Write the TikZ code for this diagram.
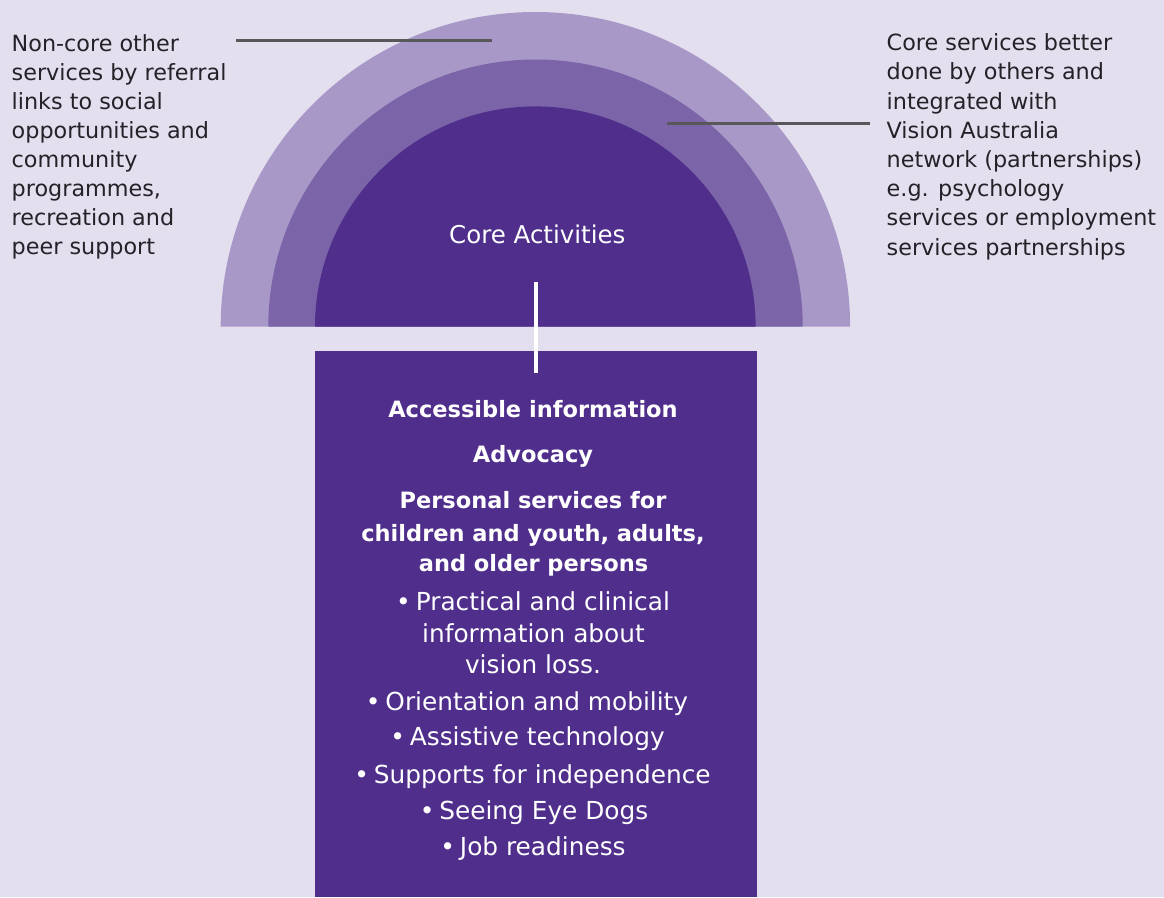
\documentclass[tikz,border=0pt]{standalone}
\usepackage{fontspec}
\setmainfont{DejaVu Sans}
\definecolor{bgpage}{HTML}{E3DFEE}
\definecolor{ringout}{HTML}{A898C8}
\definecolor{ringmid}{HTML}{7B64A7}
\definecolor{ringin}{HTML}{502E8C}
\definecolor{leader}{HTML}{58585A}
\definecolor{bodytext}{HTML}{242228}
\newcommand{\itemdot}{•\hspace{0.2em}}
\begin{document}
\begin{tikzpicture}[x=1pt,y=-1pt,
  sidetext/.style={anchor=base west,inner sep=0pt,text=bodytext,font=\fontsize{22.3}{29}\selectfont},
  boxhead/.style={anchor=base,inner sep=0pt,text=white,font=\fontsize{22.5}{29}\selectfont\bfseries},
  boxitem/.style={anchor=base,inner sep=0pt,text=white,font=\fontsize{24.8}{30}\selectfont},
  leaderline/.style={draw=leader,line width=3.2pt},
  stem/.style={draw=white,line width=4.6pt}]
% page
\fill[bgpage] (0,0) rectangle (1164,897);
\useasboundingbox (0,0) rectangle (1164,897);

% three concentric half discs
\fill[ringout] (220.7,326.7) arc[start angle=180,end angle=360,radius=314.7] -- cycle;
\fill[ringmid] (268.3,326.7) arc[start angle=180,end angle=360,radius=267.2] -- cycle;
\fill[ringin]  (315.0,326.7) arc[start angle=180,end angle=360,radius=220.3] -- cycle;
\node[inner sep=0pt,anchor=base,text=white,font=\fontsize{24.5}{29}\selectfont] (core) at (537.3,243.3) {Core Activities};

% box of core services
\node[fill=ringin,inner sep=0pt,minimum width=442pt,minimum height=546pt,anchor=north west] (box) at (315,351) {};

% stem joining the core to the box
\coordinate (stemtop) at (536,281.5);
\coordinate (stembot) at (536,372.5);
\draw[stem] (stemtop) -- (stembot);

% box contents
\node[boxhead] (h1) at (533,417.7) {Accessible information};
\node[boxhead] (h2) at (533,462.7) {Advocacy};
\node[boxhead] (h3) at (533,508.0) {Personal services for};
\node[boxhead] (h4) at (533,541.0) {children and youth, adults,};
\node[boxhead] (h5) at (533.5,571.7) {and older persons};
\node[boxitem] (i1) at (533,610.0) {\itemdot Practical and clinical};
\node[boxitem] (i2) at (533.5,642.3) {information about};
\node[boxitem] (i3) at (533,673.3) {vision loss.};
\node[boxitem] (i4) at (527,710.7) {\itemdot Orientation and mobility};
\node[boxitem] (i5) at (527.5,745.7) {\itemdot Assistive technology};
\node[boxitem] (i6) at (532.5,783.3) {\itemdot Supports for independence};
\node[boxitem] (i7) at (534,819.3) {\itemdot Seeing Eye Dogs};
\node[boxitem] (i8) at (533,855.0) {\itemdot Job readiness};

% left annotation
\foreach \t [count=\k from 0] in {Non-core other,services by referral,links to social,opportunities and,community,{programmes,},recreation and,peer support}
  \node[sidetext] (left\k) at (11.5,51+29.05*\k) {\t};
\coordinate (la) at (236,40.3);
\coordinate (lb) at (492,40.3);
\draw[leaderline] (la) -- (lb);

% right annotation
\foreach \t [count=\k from 0] in {Core services better,done by others and,integrated with,Vision Australia,network (partnerships),e.g. psychology,services or employment,services partnerships}
  \node[sidetext] (right\k) at (886.5,50.7+29.2*\k) {\t};
\coordinate (ra) at (667,123.5);
\coordinate (rb) at (870,123.5);
\draw[leaderline] (ra) -- (rb);
\end{tikzpicture}
\end{document}
